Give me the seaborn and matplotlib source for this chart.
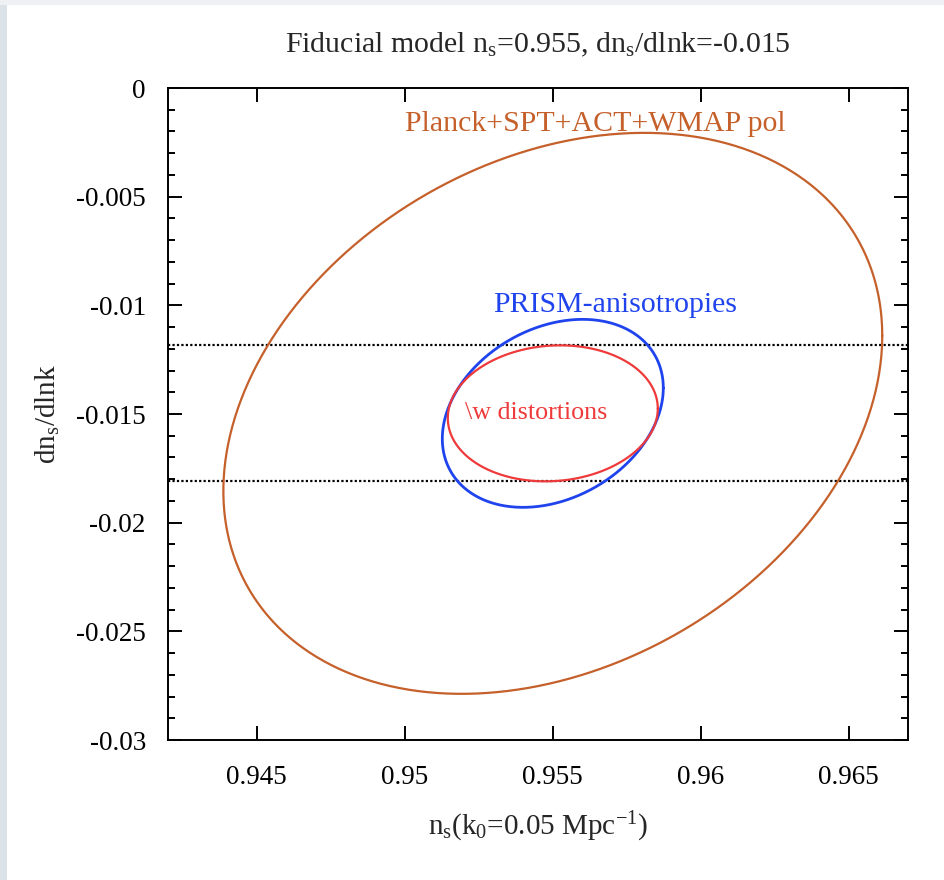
import numpy as np
import pandas as pd
import matplotlib
matplotlib.use("Agg")
import matplotlib.pyplot as plt
from matplotlib.ticker import FixedLocator, FixedFormatter, MultipleLocator
from matplotlib.patches import Rectangle
import seaborn as sns

# ---------------- data ----------------
contour_names = ["Planck+SPT+ACT+WMAP pol", "PRISM-anisotropies", "\\w distortions"]
center_ns = [0.9550, 0.9550, 0.9550]
center_dn = [-0.01497, -0.01497, -0.01497]
halfwidth_ns = [0.01113, 0.003733, 0.003547]
halfwidth_dn = [0.012906, 0.004325, 0.003129]
correlation = [0.277, 0.27, 0.07]
contour_colors = ["#c5602b", "#1f44ee", "#ee3a3a"]

hline_values = [-0.01182, -0.01810]

label_ns = [0.95642, 0.95710, 0.95443]
label_dn = [-0.00165, -0.00999, -0.01495]

xtick_values = [0.945, 0.95, 0.955, 0.96, 0.965]
xtick_labels = ["0.945", "0.95", "0.955", "0.96", "0.965"]
ytick_values = [0, -0.005, -0.01, -0.015, -0.02, -0.025, -0.03]
ytick_labels = ["0", "-0.005", "-0.01", "-0.015", "-0.02", "-0.025", "-0.03"]

# ---------------- style ----------------
sns.set_style("ticks")
plt.rcParams["font.family"] = ["Liberation Serif", "DejaVu Serif"]
plt.rcParams["mathtext.fontset"] = "custom"
plt.rcParams["mathtext.rm"] = "Liberation Serif"
plt.rcParams["mathtext.it"] = "Liberation Serif:italic"
plt.rcParams["axes.unicode_minus"] = False

fig = plt.figure(figsize=(9.44, 8.8), dpi=100)
fig.patch.set_facecolor("white")
# slide background strips
fig.patches.append(Rectangle((0, 0), 7 / 944, 1, transform=fig.transFigure,
                             facecolor="#dbe2e8", edgecolor="none", zorder=0))
fig.patches.append(Rectangle((0, 1 - 5 / 880), 1, 5 / 880, transform=fig.transFigure,
                             facecolor="#eef0f3", edgecolor="none", zorder=0))

ax = fig.add_axes([168 / 944, 1 - 740 / 880, 740 / 944, 652 / 880])

# build ellipse boundaries from parameters
t = np.linspace(0, 2 * np.pi, 600)
frames = []
for name, cx, cy, sx, sy, rho in zip(contour_names, center_ns, center_dn,
                                     halfwidth_ns, halfwidth_dn, correlation):
    xs = cx + sx * np.cos(t)
    ys = cy + sy * (rho * np.cos(t) + np.sqrt(1 - rho ** 2) * np.sin(t))
    frames.append(pd.DataFrame({"ns": xs, "dn": ys, "contour": name, "order": np.arange(len(t))}))
df = pd.concat(frames, ignore_index=True)

lws = [1.6, 2.0, 1.6]
for name, col, lw in zip(contour_names, contour_colors, lws):
    sub = df[df["contour"] == name]
    sns.lineplot(data=sub, x="ns", y="dn", sort=False, estimator=None,
                 color=col, lw=lw, ax=ax, legend=False)

for hv in hline_values:
    ax.axhline(hv, color="black", lw=1.6, linestyle=(0, (1.0, 1.0)), zorder=1)

label_sizes = [21.5, 21.5, 18.7]
for name, col, lx, ly, fs in zip(contour_names, contour_colors, label_ns, label_dn, label_sizes):
    ax.text(lx, ly, name, color=col, fontsize=fs, ha="center", va="center")

ax.set_xlim(0.942, 0.967)
ax.set_ylim(-0.03, 0)

ax.xaxis.set_major_locator(FixedLocator(xtick_values))
ax.xaxis.set_major_formatter(FixedFormatter(xtick_labels))
ax.yaxis.set_major_locator(FixedLocator(ytick_values))
ax.yaxis.set_major_formatter(FixedFormatter(ytick_labels))
ax.yaxis.set_minor_locator(MultipleLocator(0.001))

ax.tick_params(axis="both", which="both", direction="in", top=True, right=True,
               colors="black", width=1.4)
ax.tick_params(axis="both", which="major", length=10, labelsize=19.5)
ax.tick_params(axis="y", which="minor", length=5)
ax.tick_params(axis="y", which="major", pad=16)
ax.tick_params(axis="x", which="major", pad=18)
for sp in ax.spines.values():
    sp.set_visible(True)
    sp.set_linewidth(1.4)
    sp.set_color("black")

ax.set_xlabel(r"n$_{\rm s}$(k$_{\rm 0}$=0.05 Mpc$^{\rm{-}1}$)", fontsize=21, labelpad=14)
ax.set_ylabel(r"dn$_{\rm s}$/dlnk", fontsize=21, labelpad=10)
ax.set_title(r"Fiducial model n$_{\rm s}$=0.955, dn$_{\rm s}$/dlnk=-0.015",
             fontsize=21.5, pad=26)

fig.savefig("out.png", dpi=100, facecolor=fig.get_facecolor())
